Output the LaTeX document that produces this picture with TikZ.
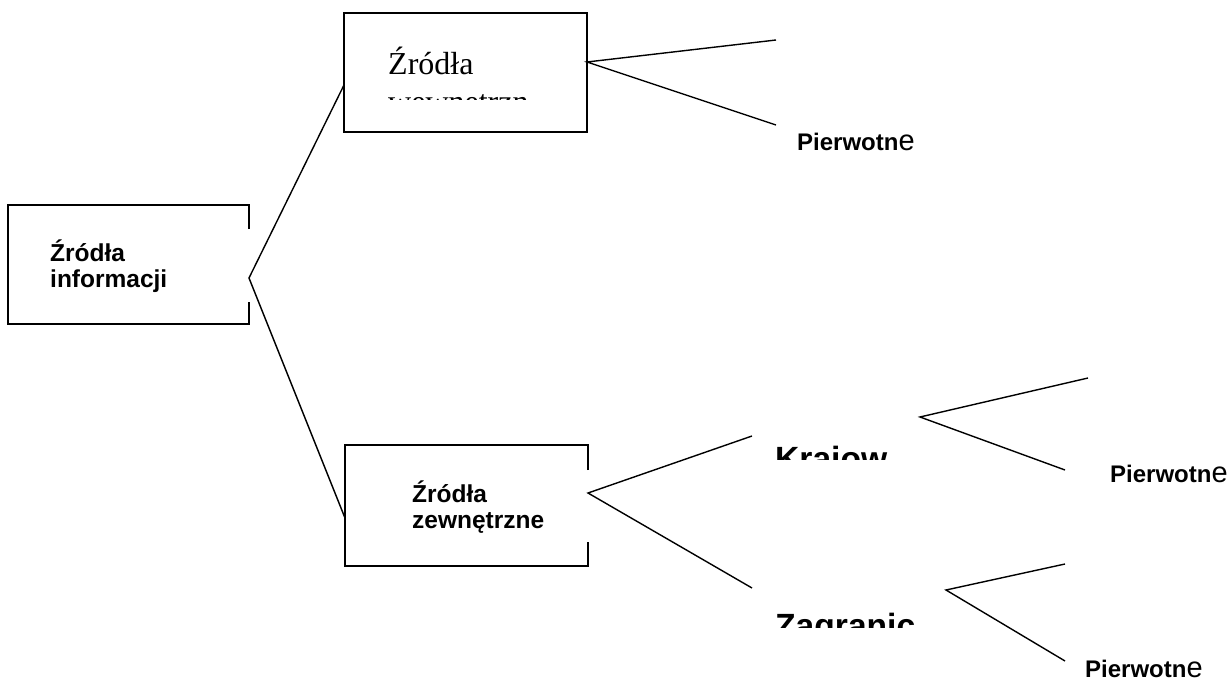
\documentclass[tikz,border=0pt]{standalone}
\usepackage{fontspec}
\setmainfont{Liberation Serif}
\newfontfamily\arialfont{Liberation Sans}
\begin{document}
\begin{tikzpicture}[x=1pt,y=-1pt,
  frame/.style={inner sep=0pt, outer sep=0pt},
  border/.style={line width=1.8pt},
  edge/.style={line width=1.4pt},
  boxtext/.style={font=\arialfont\bfseries\fontsize{24.5}{26}\selectfont,
    anchor=base west, inner sep=0pt, text width=200pt, align=left},
  serifbox/.style={font=\fontsize{32}{38}\selectfont,
    anchor=base west, inner sep=0pt, text width=200pt, align=left},
  bigbold/.style={font=\arialfont\bfseries\fontsize{33.6}{36}\selectfont,
    anchor=base west, inner sep=0pt},
  leaf/.style={font=\arialfont\bfseries\fontsize{24}{26}\selectfont,
    anchor=base west, inner sep=0pt},
]
\useasboundingbox (0,0) rectangle (1231,682);
\fill[white] (0,0) rectangle (1231,682);

% the three boxes
\node[frame, minimum width=241pt, minimum height=119pt] (src) at (128.5,264.5) {};
\node[frame, draw, border, minimum width=243pt, minimum height=119pt] (inner) at (465.5,72.5) {};
\node[frame, minimum width=243pt, minimum height=121pt] (outer) at (466.5,505.5) {};

% open borders (right side broken where the connectors leave)
\draw[border] (src.east |- 0,229) -- (src.north east) -- (src.north west)
  -- (src.south west) -- (src.south east) -- (src.east |- 0,302);
\draw[border] (outer.east |- 0,470) -- (outer.north east) -- (outer.north west)
  -- (outer.south west) -- (outer.south east) -- (outer.east |- 0,542);

% box texts
\node[boxtext] (srctxt) at (50,261) {Źródła\\informacji};
\node[boxtext] (outtxt) at (412,502) {Źródła\\zewnętrzne};
\begin{scope}
  \clip (350,20) rectangle (527,100);
  \node[serifbox] (intxt) at (388,75) {Źródła\\wewnętrzne};
\end{scope}

% cut-off second level labels
\begin{scope}
  \clip (760,430) rectangle (900,459);
  \node[bigbold] (dom) at (775,470.5) {Krajow};
\end{scope}
\begin{scope}
  \clip (760,600) rectangle (930,627);
  \node[bigbold] (abroad) at (775,637) {Zagranic};
\end{scope}

% leaf labels
\node[leaf] (p1) at (797,150) {Pierwotn{\mdseries\fontsize{29}{30}\selectfont e}};
\node[leaf] (p2) at (1110,482) {Pierwotn{\mdseries\fontsize{29}{30}\selectfont e}};
\node[leaf] (p3) at (1085,677) {Pierwotn{\mdseries\fontsize{29}{30}\selectfont e}};

% junction points
\coordinate (srcJ) at (src.east |- 0,278);
\coordinate (inL) at (inner.west |- 0,85);
\coordinate (outL) at (outer.west |- 0,518);
\coordinate (inJ) at (inner.east |- 0,62);
\coordinate (outJ) at (outer.east |- 0,493);
\coordinate (domJ) at (920,417);
\coordinate (abroadJ) at (946,590);

% free line ends
\coordinate (inA) at (776,40);
\coordinate (inB) at (776,125);
\coordinate (outA) at (752,436);
\coordinate (outB) at (752,588);
\coordinate (domA) at (1088,378);
\coordinate (domB) at (1065,470);
\coordinate (abroadA) at (1065,564);
\coordinate (abroadB) at (1065,661);

% connectors
\draw[edge] (inL) -- (srcJ) -- (outL);
\draw[edge] (inA) -- (inJ) -- (inB);
\draw[edge] (outA) -- (outJ) -- (outB);
\draw[edge] (domA) -- (domJ) -- (domB);
\draw[edge] (abroadA) -- (abroadJ) -- (abroadB);
\end{tikzpicture}
\end{document}
